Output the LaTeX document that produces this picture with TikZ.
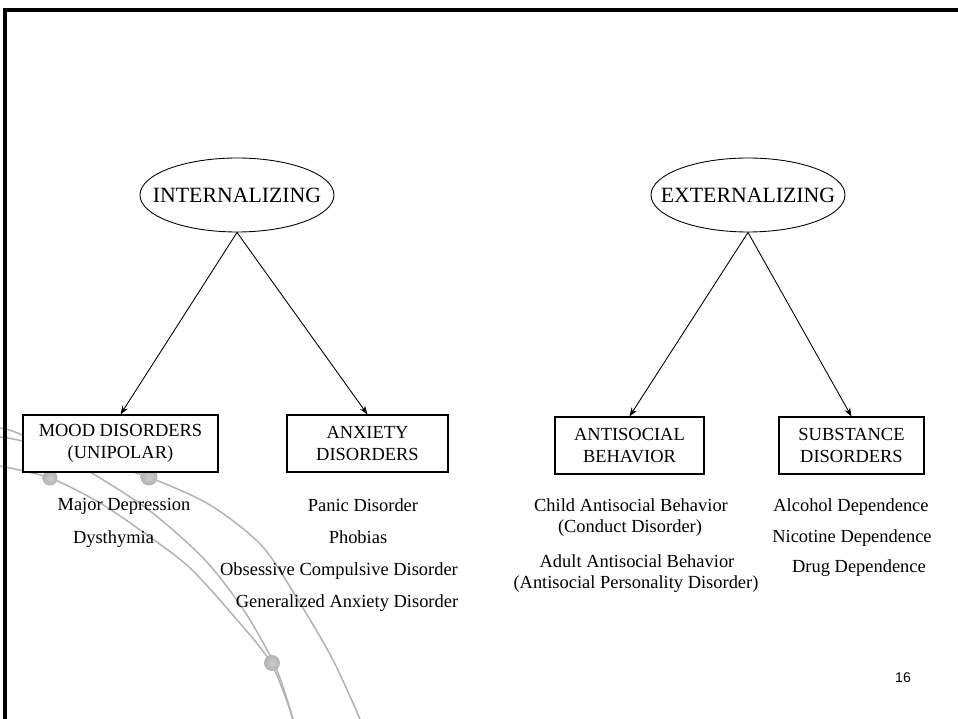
\documentclass[tikz,border=0pt]{standalone}
\usepackage{fontspec}
\setmainfont{Liberation Serif}
\newfontfamily\numfont{Liberation Sans}
\usetikzlibrary{shapes.geometric,arrows.meta}

\begin{document}
\begin{tikzpicture}[x=0.02cm,y=-0.02cm,
  factor/.style={draw,ellipse,line width=0.5pt,inner sep=0pt,minimum width=3.88cm,minimum height=1.48cm,font=\fontsize{12.4}{14}\selectfont},
  group/.style={draw,fill=white,line width=0.6pt,align=center,minimum height=1.14cm,inner sep=0pt,font=\fontsize{10.5}{12.5}\selectfont},
  item/.style={anchor=base,inner sep=0pt,font=\fontsize{10.5}{12.5}\selectfont},
  swirl/.style={draw=black!30,line width=0.85pt},
  knob/.style={inner color=black!20,outer color=black!30}]
  \useasboundingbox (0,0) rectangle (958,719);
  % grey swirls in the corner
  \draw [swirl] plot [smooth] coordinates {(0,466) (50,478) (100,503) (150,537) (190,568) (232,614) (271,663) (293,719)};
  \draw [swirl] plot [smooth] coordinates {(0,428) (22,435) (90,472) (150,511) (205,560) (245,612) (276,668) (293,719)};
  \draw [swirl] plot [smooth] coordinates {(0,437) (22,441) (90,460) (148,477) (210,505) (262,546) (298,600) (333,660) (360,719)};
  \shade [knob] (50,478) circle [radius=7.5];
  \shade [knob] (149,477) circle [radius=8.5];
  \shade [knob] (272,663) circle [radius=8];
  % frame
  \draw [line width=1.8pt] (5,719) -- (5,10) -- (958,10);

  \node [factor] (int) at (237,195) {\makebox[0pt]{INTERNALIZING}};
  \node [factor] (ext) at (748,195) {\makebox[0pt]{EXTERNALIZING}};

  \node [group,minimum width=3.9cm] (mood) at (120.5,443.5) {MOOD DISORDERS\\(UNIPOLAR)};
  \node [group,minimum width=3.22cm] (anx) at (367.5,443.5) {ANXIETY\\DISORDERS};
  \node [group,minimum width=2.98cm] (anti) at (629.5,445.5) {ANTISOCIAL\\BEHAVIOR};
  \node [group,minimum width=2.9cm] (subst) at (851.5,445.5) {SUBSTANCE\\DISORDERS};

  \draw [-{Stealth[length=5pt,width=3.6pt]},line width=0.5pt] (int.south) -- (mood.north);
  \draw [-{Stealth[length=5pt,width=3.6pt]},line width=0.5pt] (int.south) -- (anx.north);
  \draw [-{Stealth[length=5pt,width=3.6pt]},line width=0.5pt] (ext.south) -- (anti.north);
  \draw [-{Stealth[length=5pt,width=3.6pt]},line width=0.5pt] (ext.south) -- (subst.north);

  % symptoms
  \node [item] (majdep) at (124,511) {Major Depression};
  \node [item] (dysth) at (113.5,544) {Dysthymia};
  \node [item] (panic) at (363,512) {Panic Disorder};
  \node [item] (phob) at (358,544) {Phobias};
  \node [item] (ocd) at (339,576) {Obsessive Compulsive Disorder};
  \node [item] (gad) at (347,608) {Generalized Anxiety Disorder};
  \node [item] (child) at (631,512) {Child Antisocial Behavior};
  \node [item] (conduct) at (630,533) {(Conduct Disorder)};
  \node [item] (adult) at (637,568) {Adult Antisocial Behavior};
  \node [item] (aspd) at (636,589) {(Antisocial Personality Disorder)};
  \node [item] (alc) at (851,512) {Alcohol Dependence};
  \node [item] (nic) at (852,543) {Nicotine Dependence};
  \node [item] (drug) at (859,573) {Drug Dependence};

  \node [anchor=base,inner sep=0pt,font=\numfont\fontsize{8}{9.6}\selectfont] (page) at (903,683) {16};
\end{tikzpicture}
\end{document}
